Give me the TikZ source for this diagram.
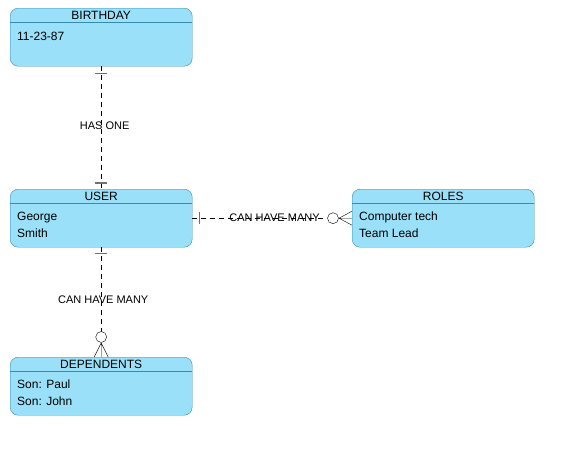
\documentclass[tikz,border=0pt]{standalone}
\usepackage{fontspec}
\setmainfont{Liberation Sans}
\usetikzlibrary{positioning}
\definecolor{entfill}{RGB}{153,224,248}
\definecolor{entdraw}{RGB}{52,140,176}
\definecolor{tickgray}{RGB}{112,112,112}

\begin{document}
\begin{tikzpicture}[x=1pt,y=-1pt,font=\fontsize{12}{17}\selectfont,
	entity/.style={draw=entdraw,fill=entfill,rounded corners=8pt,
		minimum width=182pt,minimum height=58pt,inner sep=0pt,anchor=north west},
	body/.style={anchor=north west,align=left,inner sep=0pt},
	rel/.style={dash pattern=on 5pt off 4pt},
	rellabel/.style={inner sep=0pt,font=\fontsize{11}{13}\selectfont},
	tick/.style={tickgray,line width=1.5pt}]
\useasboundingbox (0,0) rectangle (580,458);
%\draw[help lines] (0,0) grid[step=50] (580,458);

% entities
\node[entity] (bday) at (10,8) {};
\node[entity] (user) at (10,189) {};
\node[entity] (roles) at (352,189) {};
\node[entity] (deps) at (10,357) {};
\foreach \e/\t in {bday/BIRTHDAY,user/USER,roles/ROLES,deps/DEPENDENTS}{
	\draw[entdraw] ([yshift=-14pt]\e.north west) -- ([yshift=-14pt]\e.north east);
	\node[inner sep=0pt] (\e-title) at ([yshift=-7pt]\e.north) {\t};
}
\node[body] (bday-text) at ([xshift=7pt,yshift=-24pt]bday.north west) {11-23-87};
\node[body] (user-text) at ([xshift=7pt,yshift=-23pt]user.north west) {George\\Smith};
\node[body] (roles-text) at ([xshift=7pt,yshift=-23pt]roles.north west) {Computer tech\\Team Lead};
\node[body] (deps-text) at ([xshift=7pt,yshift=-23pt]deps.north west) {Son: Paul\\Son: John};

% relations
\draw[rel] (bday.south) -- node[rellabel,pos=0.485,xshift=3.5pt] (hasone) {HAS ONE} (user.north);
\draw[tick] ([xshift=-6pt,yshift=-7pt]bday.south) -- ([xshift=6pt,yshift=-7pt]bday.south);
\draw[tick] ([xshift=-6pt,yshift=6pt]user.north) -- ([xshift=6pt,yshift=6pt]user.north);

\draw[rel] (user.east) -- node[rellabel,pos=0.61] (canroles) {CAN HAVE MANY} ([xshift=-25pt]roles.west);
\draw[tick] ([xshift=7pt,yshift=6pt]user.east) -- ([xshift=7pt,yshift=-6pt]user.east);
\draw[fill=white] ([xshift=-19pt]roles.west) circle (5.5pt);
\draw ([xshift=-13pt]roles.west) -- ([yshift=7pt]roles.west)
	([xshift=-13pt]roles.west) -- (roles.west)
	([xshift=-13pt]roles.west) -- ([yshift=-7pt]roles.west);

\draw[rel] (user.south) -- node[rellabel,pos=0.62,xshift=2pt] (candeps) {CAN HAVE MANY} ([yshift=25pt]deps.north);
\draw[tick] ([xshift=-6pt,yshift=-6pt]user.south) -- ([xshift=6pt,yshift=-6pt]user.south);
\draw[fill=white] ([yshift=20pt]deps.north) circle (5.5pt);
\draw ([yshift=14pt]deps.north) -- ([xshift=-7pt]deps.north)
	([yshift=14pt]deps.north) -- (deps.north)
	([yshift=14pt]deps.north) -- ([xshift=7pt]deps.north);
\end{tikzpicture}
\end{document}
